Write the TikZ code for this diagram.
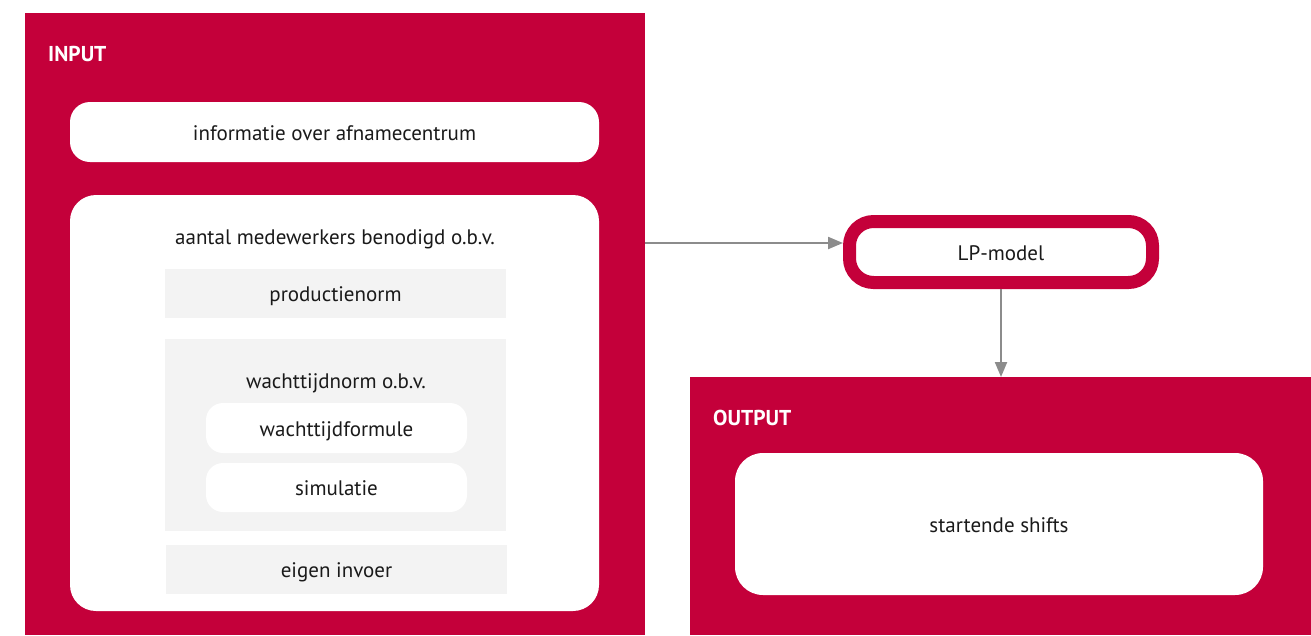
\documentclass[tikz,border=0pt]{standalone}
\usepackage{fontspec}
\setmainfont{PT Sans}
\usetikzlibrary{arrows.meta}
\definecolor{crim}{HTML}{C4003A}
\definecolor{lgray}{HTML}{F3F3F3}
\definecolor{agray}{HTML}{8C8C8C}
\definecolor{txt}{HTML}{1A1A1A}
\tikzset{
  panel/.style={fill=crim, draw=none, inner sep=0pt, anchor=north west},
  title/.style={text=white, font=\fontsize{21.5}{24}\selectfont\bfseries, anchor=base west, inner sep=0pt},
  wbox/.style={fill=white, draw=none, inner sep=0pt, text=txt, font=\fontsize{21}{24}\selectfont, text height=16pt, text depth=0pt},
  gbox/.style={fill=lgray, draw=none, inner sep=0pt, text=txt, font=\fontsize{21}{24}\selectfont, text height=16pt, text depth=0pt},
  lbl/.style={text=txt, font=\fontsize{21}{24}\selectfont, inner sep=0pt, anchor=base},
  conn/.style={draw=agray, line width=2.2pt, -{Triangle[length=15pt,width=12pt]}},
}
\begin{document}
\begin{tikzpicture}[x=1pt,y=-1pt]
\useasboundingbox (0,0) rectangle (1311,635);
% INPUT panel
\node[panel, minimum width=620pt, minimum height=622pt] (input) at (25,13) {};
\node[title] (intitle) at (48,61) {INPUT};
\node[wbox, rounded corners=20pt, minimum width=529pt, minimum height=60pt] (info) at (334.5,132) {informatie over afnamecentrum};
\node[wbox, rounded corners=26pt, minimum width=529pt, minimum height=416pt] (big) at (334.5,403) {};
\node[lbl] (aantal) at (335,244) {aantal medewerkers benodigd o.b.v.};
\node[gbox, minimum width=341pt, minimum height=49pt] (prod) at (335.5,293.5) {productienorm};
\node[gbox, minimum width=341pt, minimum height=192pt] (wacht) at (335.5,435) {};
\node[lbl] (wachtlbl) at (336,388) {wachttijdnorm o.b.v.};
\node[wbox, rounded corners=17pt, minimum width=261pt, minimum height=50pt] (formule) at (336.5,428) {wachttijdformule};
\node[wbox, rounded corners=17pt, minimum width=261pt, minimum height=49pt] (sim) at (336.5,487.5) {simulatie};
\node[gbox, minimum width=341pt, minimum height=49pt] (eigen) at (336.5,569.5) {eigen invoer};
% LP-model
\node[wbox, draw=crim, line width=13pt, rounded corners=24pt, minimum width=303pt, minimum height=61pt] (lp) at (1001,252) {LP-model};
% OUTPUT panel
\node[panel, minimum width=621pt, minimum height=258pt] (output) at (690,377) {};
\node[title] (outtitle) at (713,425) {OUTPUT};
\node[wbox, rounded corners=28pt, minimum width=528pt, minimum height=142pt] (shifts) at (999,524) {startende shifts};
% connectors
\coordinate (ay) at (0,243);
\draw[conn] (input.east |- ay) -- (lp.west |- ay);
\draw[conn] (lp.south) -- (output.north -| lp.south);
\end{tikzpicture}
\end{document}
